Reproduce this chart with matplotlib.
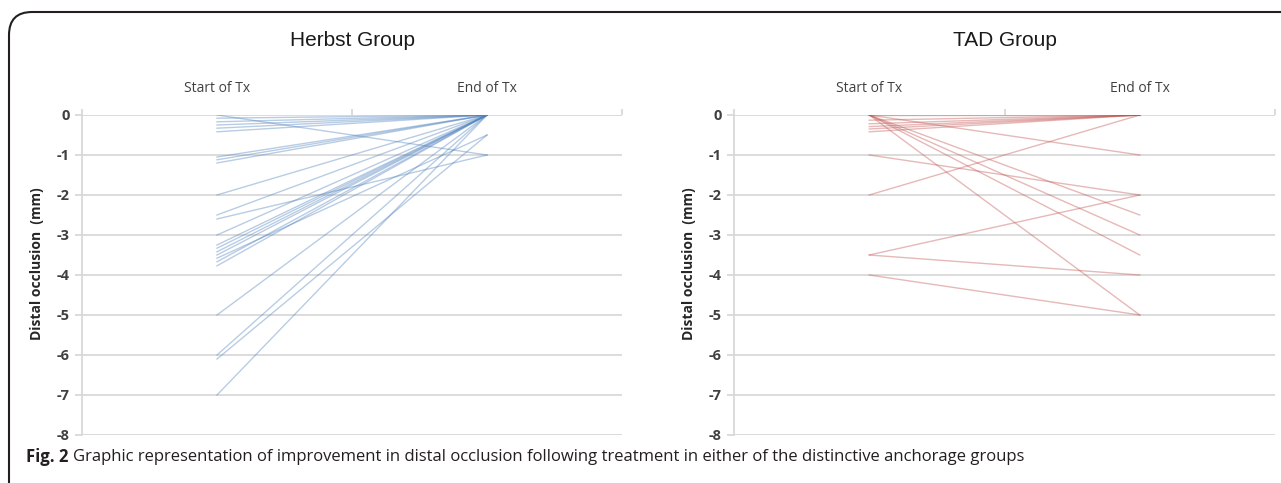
import matplotlib.pyplot as plt
from matplotlib.patches import FancyBboxPatch

# figure size in pixels
W, H = 1281, 483

# data
categories = ['Start of Tx', 'End of Tx']
y_ticks = [0, -1, -2, -3, -4, -5, -6, -7, -8]

herbst_start = [0, -0.08, -0.17, -0.25, -0.33, -0.42,
                -1.05, -1.12, -1.2,
                -2.0, -2.5, -2.6, -3.0,
                -3.25, -3.33, -3.42, -3.5, -3.58, -3.67, -3.77,
                -5.0, -6.0, -6.1, -7.0]
herbst_end = [-1.0, 0, 0, 0, 0, 0,
              0, 0, 0,
              0, 0, -1.0, 0,
              0, 0, 0, 0, -0.5, 0, 0,
              0, 0, -0.5, 0]

tad_start = [0, 0, 0, 0, 0, 0,
             -0.13, -0.22, -0.29, -0.35, -0.42,
             -1.0, -2.0, -3.5, -3.5, -4.0]
tad_end = [0, -1.0, -2.5, -3.0, -3.5, -5.0,
           0, 0, 0, 0, 0,
           -2.0, 0, -2.0, -4.0, -5.0]

plt.rcParams['font.family'] = ['Open Sans', 'DejaVu Sans']
plt.rcParams['axes.unicode_minus'] = False

fig = plt.figure(figsize=(W / 100, H / 100), dpi=100)


def add_axes_px(left, right, top, bottom):
    return fig.add_axes([left / W, 1 - bottom / H, (right - left) / W, (bottom - top) / H])


def draw_group(ax, starts, ends, color, title, ylab_x):
    for s, e in zip(starts, ends):
        ax.plot([0, 1], [s, e], color=color, alpha=0.4, lw=1.0)
    ax.set_xlim(-0.5, 1.5)
    ax.set_ylim(-8, 0)
    ax.set_yticks(y_ticks)
    ax.grid(axis='y', color='#d9d9d9', lw=1.3)
    ax.set_axisbelow(True)
    for sp in ['top', 'right', 'bottom']:
        ax.spines[sp].set_visible(False)
    ax.spines['left'].set_color('#d9d9d9')
    ax.spines['left'].set_linewidth(1.3)
    ax.xaxis.tick_top()
    ax.set_xticks([0, 1], categories)
    ax.tick_params(axis='x', which='major', length=0, pad=14, labelsize=10,
                   labelcolor='#404040')
    ax.set_xticks([-0.5, 0.5, 1.5], minor=True)
    ax.tick_params(axis='x', which='minor', length=4, color='#d9d9d9', width=1.3)
    ax.tick_params(axis='y', length=5, color='#d9d9d9', width=1.3, labelsize=10.5,
                   labelcolor='#404040', pad=4)
    for lbl in ax.get_yticklabels():
        lbl.set_fontweight('bold')

    bb = ax.get_position()
    fig.text((bb.x0 + bb.x1) / 2, 1 - 40 / H, title, ha='center', va='center',
             fontsize=15, family='Liberation Sans', color='#1a1a1a')
    fig.text(ylab_x / W, 1 - 264 / H, 'Distal occlusion  (mm)', rotation=90,
             ha='center', va='center', fontsize=10, fontweight='bold',
             color='#262626')


ax1 = add_axes_px(82, 622, 115, 435)
draw_group(ax1, herbst_start, herbst_end, '#4f81bd', 'Herbst Group', 37)

ax2 = add_axes_px(734, 1275, 115, 435)
draw_group(ax2, tad_start, tad_end, '#c0504d', 'TAD Group', 689)

# frame round the figure (runs off the right and bottom edges)
frame = FancyBboxPatch((9 / W, -0.2), 1.3, 1.2 - 12 / H,
                       boxstyle='round,pad=0,rounding_size=0.018',
                       transform=fig.transFigure, fill=False,
                       edgecolor='#231f20', lw=1.5, mutation_aspect=W / H)
fig.patches.append(frame)

# caption
renderer = fig.canvas.get_renderer()
cap_y = 1 - 457 / H
t1 = fig.text(26 / W, cap_y, 'Fig. 2', fontsize=12, fontweight='bold',
              ha='left', va='center', color='#231f20')
ext = t1.get_window_extent(renderer)
fig.text((ext.x1 + 5) / W, cap_y,
         'Graphic representation of improvement in distal occlusion following '
         'treatment in either of the distinctive anchorage groups',
         fontsize=12, ha='left', va='center', color='#231f20')

fig.savefig('out.png', dpi=100)
